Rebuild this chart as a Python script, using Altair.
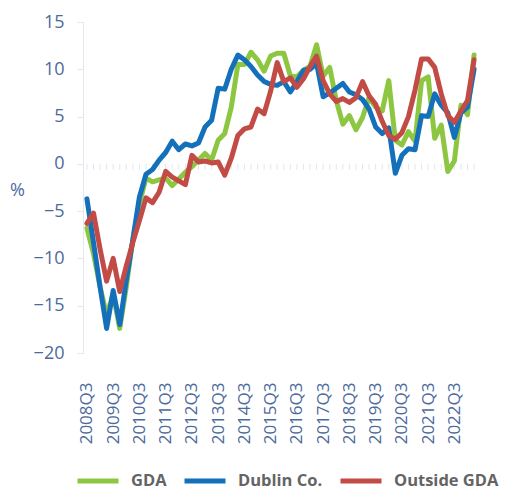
import altair as alt
import pandas as pd

quarters = [f"{y}Q{q}" for y in range(2008, 2024) for q in (1, 2, 3, 4)][2:62]
tick_labels = ["2008Q3", "2009Q3", "2010Q3", "2011Q3", "2012Q3", "2013Q3", "2014Q3",
               "2015Q3", "2016Q3", "2017Q3", "2018Q3", "2019Q3", "2020Q3", "2021Q3", "2022Q3"]

gda = [-6.8, -9.5, -13.0, -16.0, -13.8, -17.4, -13.0, -8.0, -4.2, -1.5,
       -1.9, -1.7, -1.5, -2.3, -1.6, -0.9, -0.3, 0.4, 1.1, 0.4,
       2.5, 3.2, 6.0, 10.5, 10.5, 11.8, 11.0, 9.8, 11.4, 11.7,
       11.7, 9.3, 9.2, 9.9, 10.3, 12.6, 9.3, 10.2, 6.7, 4.2,
       5.1, 3.6, 4.9, 7.0, 6.0, 5.6, 8.8, 2.5, 2.0, 3.4,
       2.4, 8.8, 9.2, 2.7, 4.1, -0.8, 0.3, 6.2, 5.2, 11.5]
dublin = [-3.7, -8.3, -13.0, -17.4, -13.4, -17.0, -12.3, -8.0, -3.5, -1.1,
          -0.6, 0.4, 1.2, 2.4, 1.5, 2.1, 1.9, 2.2, 3.9, 4.6,
          8.0, 7.9, 10.0, 11.5, 11.0, 10.3, 9.4, 8.7, 8.4, 8.3,
          8.7, 7.6, 8.7, 9.9, 10.0, 10.6, 7.1, 7.5, 8.0, 8.5,
          7.6, 7.3, 6.8, 5.8, 3.9, 3.2, 3.8, -1.0, 0.9, 1.6,
          1.5, 5.1, 5.0, 7.4, 6.2, 5.4, 2.8, 5.4, 6.0, 10.0]
outside = [-6.3, -5.2, -9.0, -12.4, -10.0, -13.5, -10.8, -8.3, -6.0, -3.6,
           -4.1, -3.0, -0.8, -1.4, -1.8, -2.2, 0.9, 0.2, 0.3, 0.1,
           0.2, -1.2, 0.6, 3.0, 3.7, 3.9, 5.8, 5.3, 7.7, 10.7,
           8.7, 9.1, 8.1, 9.0, 10.3, 11.4, 8.8, 7.4, 6.6, 6.9,
           6.5, 7.0, 8.7, 7.2, 6.3, 4.5, 3.0, 2.6, 3.3, 5.0,
           7.8, 11.1, 11.1, 10.2, 7.4, 5.1, 4.4, 5.6, 6.7, 11.0]

series_names = ["GDA", "Dublin Co.", "Outside GDA"]
series_colors = ["#8dc641", "#1570bb", "#c24b46"]
y_ticks = [-20, -15, -10, -5, 0, 5, 10, 15]

rows = []
for name, vals in zip(series_names, [gda, dublin, outside]):
    for q, v in zip(quarters, vals):
        rows.append({"quarter": q, "series": name, "value": v})
df = pd.DataFrame(rows)

label_color = "#4d6a9c"
grid_color = "#e3e7ee"
font = "Open Sans"

x_enc = alt.X("quarter:O", sort=quarters,
              scale=alt.Scale(type="point", padding=0.6),
              axis=alt.Axis(values=tick_labels, labelAngle=-90, labelAlign="right",
                            labelBaseline="middle", ticks=False, domain=False, grid=False,
                            labelPadding=29, labelFontSize=17, labelColor=label_color,
                            labelFont=font, title=None))
y_enc = alt.Y("value:Q", scale=alt.Scale(domain=[-20, 15], nice=False),
              axis=alt.Axis(values=y_ticks, title="%", titleAngle=0, titleX=-66, titleY=168,
                            titleAlign="center", titleBaseline="middle",
                            titleFontWeight="normal", titleFontSize=18, titleColor=label_color,
                            titleFont=font, labelFontSize=18, labelColor=label_color,
                            labelFont=font, labelPadding=13, tickSize=6, tickColor=grid_color,
                            domainColor=grid_color, gridColor=grid_color, gridWidth=1.5))

ticks = alt.Chart(pd.DataFrame({"quarter": quarters})).mark_tick(
    orient="vertical", size=6, thickness=1, yOffset=3, color="#d5dbe5"
).encode(x=x_enc, y=alt.datum(0))

lines = alt.Chart(df).mark_line(strokeWidth=5, strokeCap="round", strokeJoin="round").encode(
    x=x_enc, y=y_enc,
    color=alt.Color("series:N", sort=series_names,
                    scale=alt.Scale(domain=series_names, range=series_colors),
                    legend=alt.Legend(orient="none", legendX=-8, legendY=436,
                                      direction="horizontal", title=None,
                                      symbolType="stroke", symbolStrokeWidth=5,
                                      symbolSize=1681, labelFontSize=16.5,
                                      labelFontWeight="bold", labelColor="#646464",
                                      labelFont=font, labelOffset=10, columnPadding=7,
                                      labelLimit=200))
)

chart = alt.layer(ticks, lines).properties(
    width=395, height=331,
    autosize=alt.AutoSizeParams(type="none"),
    padding={"left": 75, "top": 14, "right": 23, "bottom": 142},
).configure_view(stroke=None)

chart.save("out.html", embed_options={"renderer": "svg", "actions": False})
